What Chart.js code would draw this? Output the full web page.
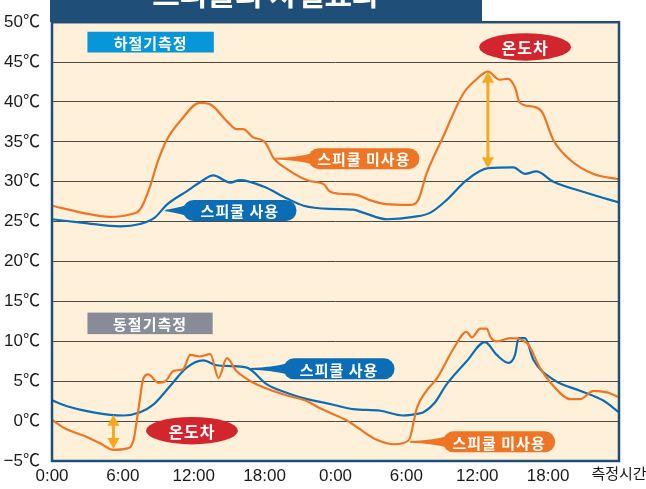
<!DOCTYPE html>
<html>
<head>
<meta charset="utf-8">
<script src="https://cdn.jsdelivr.net/npm/chart.js@4/dist/chart.umd.min.js"></script>
<style>
  body { margin: 0; background: #fff; }
  canvas { display: block; }
</style>
</head>
<body>
<canvas id="heatChart" width="646" height="489"></canvas>
<script>
// measured temperatures (hours since start, °C)
const summerOffHours = [0, 2.6, 4.9, 6.6, 7.45, 8.3, 8.9, 9.7, 10.85, 12.5, 13.4, 14.8, 15.6, 16.2, 17.0, 18.0, 18.3, 18.7, 20.0, 21.8, 23.0, 23.5, 24.4, 25.8, 26.9, 28.3, 30.3, 31.0, 31.7, 33.1, 34.8, 35.9, 36.9, 37.9, 38.6, 39.2, 39.6, 40.75, 41.5, 42.45, 43.9, 45.8, 48];
const summerOffTemps = [27.0, 26.1, 25.6, 25.9, 26.5, 29.4, 32.3, 35.2, 37.6, 39.9, 39.7, 37.6, 36.6, 36.6, 35.6, 35.0, 34.3, 33.1, 31.5, 30.1, 29.7, 28.8, 28.5, 28.35, 27.7, 27.2, 27.1, 27.7, 31.0, 35.6, 41.0, 42.8, 43.8, 42.8, 42.9, 41.8, 39.9, 39.4, 38.7, 35.2, 32.7, 31.0, 30.3];

const summerOnHours = [0, 2.65, 5.8, 7.45, 8.7, 9.7, 11.4, 12.5, 13.65, 15.1, 15.9, 17.9, 19.9, 21.3, 23.5, 25.5, 26.4, 28.35, 30.6, 32.0, 33.4, 35.1, 36.9, 39.05, 40.05, 41.0, 42.45, 45.3, 48];
const summerOnTemps = [25.3, 24.85, 24.4, 24.7, 25.5, 27.1, 28.8, 29.9, 30.8, 29.9, 30.2, 29.4, 27.9, 27.0, 26.6, 26.5, 26.1, 25.3, 25.6, 26.1, 27.7, 30.2, 31.7, 31.8, 31.0, 31.3, 30.0, 28.6, 27.4];

const winterOffHours = [0, 1.2, 2.65, 4.1, 5.2, 6.3, 6.9, 7.3, 7.75, 8.15, 9.0, 9.6, 10.3, 11.1, 11.7, 12.5, 13.4, 14.1, 14.8, 15.6, 17.05, 19.9, 21.6, 22.7, 25.0, 27.3, 29.0, 30.2, 30.9, 31.7, 32.6, 34.0, 35.1, 35.55, 36.25, 36.8, 37.1, 37.65, 38.8, 40.2, 41.3, 42.45, 43.9, 44.7, 45.85, 47.0, 48];
const winterOffTemps = [0.15, -1.0, -1.8, -2.8, -3.6, -3.45, -2.4, 1.3, 5.4, 5.85, 4.8, 5.0, 6.3, 6.5, 8.3, 8.1, 8.4, 5.4, 7.9, 6.3, 4.8, 3.2, 2.5, 1.6, 0.05, -2.2, -2.9, -2.4, 1.7, 3.8, 5.4, 9.1, 11.2, 10.5, 11.6, 11.6, 10.6, 10.0, 10.4, 9.8, 6.7, 4.4, 2.75, 2.75, 3.8, 3.6, 3.0];

const winterOnHours = [0, 1.2, 3.5, 6.05, 7.45, 8.6, 10.0, 11.4, 12.8, 13.95, 15.1, 16.5, 18.2, 20.15, 21.6, 23.4, 25.5, 27.8, 29.7, 30.9, 31.45, 32.4, 33.4, 35.1, 36.65, 37.65, 38.65, 39.2, 39.5, 40.05, 40.75, 42.45, 44.7, 46.7, 48];
const winterOnTemps = [2.6, 1.9, 1.1, 0.7, 1.1, 2.1, 4.4, 6.7, 7.6, 7.0, 6.9, 6.7, 4.6, 3.4, 2.75, 2.2, 1.5, 1.3, 0.7, 0.9, 1.1, 2.3, 4.6, 7.5, 9.9, 8.3, 7.3, 8.3, 10.4, 10.4, 7.7, 5.2, 3.8, 2.55, 1.1];

const hourTicks = [0, 6, 12, 18, 24, 30, 36, 42, 48];
const tempTicks = [-5, 0, 5, 10, 15, 20, 25, 30, 35, 40, 45, 50];

const ORANGE = '#EE7523';
const BLUE = '#0B6DB6';
const ARROW = '#F6A91C';
const NAVY = '#1F4E79';
const KR = "'Noto Sans CJK KR', sans-serif";
const NUM = "'Liberation Sans Narrow', 'Liberation Sans', 'Noto Sans CJK KR', sans-serif";

function pts(hours, temps) {
    return hours.map((h, i) => ({ x: h, y: temps[i] }));
}

// labels and markers, placed in data units (hour, °C)
const boxes = [
    { text: '하절기측정', x0: 3.0, x1: 13.7, y0: 48.8, y1: 46.2, color: '#0797D9' },
    { text: '동절기측정', x0: 3.0, x1: 13.6, y0: 13.6, y1: 10.9, color: '#888C98' }
];
const pills = [
    { text: '스피쿨 미사용', x0: 21.7, x1: 31.1, y: 32.9, tip: 18.9, color: ORANGE },
    { text: '스피쿨 사용', x0: 11.1, x1: 20.7, y: 26.4, tip: 9.6, color: BLUE },
    { text: '스피쿨 사용', x0: 19.6, x1: 29.0, y: 6.55, tip: 16.8, color: BLUE },
    { text: '스피쿨 미사용', x0: 33.1, x1: 42.6, y: -2.6, tip: 30.3, color: ORANGE }
];
const ovals = [
    { text: '온도차', x: 40.05, y: 46.9 },
    { text: '온도차', x: 11.85, y: -1.2 }
];
const arrows = [
    { x: 36.9, top: 43.8, bottom: 31.7 },
    { x: 5.2, top: 0.8, bottom: -3.5 }
];

const decor = {
    id: 'decor',
    beforeDraw(chart) {
        const { ctx, chartArea: a } = chart;
        ctx.save();
        ctx.fillStyle = '#FEF0D9';
        ctx.fillRect(a.left, a.top, a.right - a.left, a.bottom - a.top);
        ctx.restore();
    },
    afterDraw(chart) {
        const { ctx, chartArea: a } = chart;
        const sx = chart.scales.x, sy = chart.scales.y;
        const X = v => sx.getPixelForValue(v);
        const Y = v => sy.getPixelForValue(v);
        ctx.save();

        // frame + title tab
        ctx.strokeStyle = NAVY;
        ctx.lineWidth = 2.5;
        ctx.strokeRect(a.left, a.top, a.right - a.left, a.bottom - a.top);
        ctx.fillStyle = NAVY;
        ctx.fillRect(a.left - 2, 0, 432, a.top);
        ctx.fillStyle = '#fff';
        ctx.font = 'bold 30px ' + KR;
        ctx.textAlign = 'center';
        ctx.textBaseline = 'alphabetic';
        ctx.fillText('스피쿨의 차열효과', a.left + 214, 5);

        ctx.textBaseline = 'middle';
        ctx.letterSpacing = '1px';
        ctx.font = 'bold 15px ' + KR;

        boxes.forEach(b => {
            const l = X(b.x0), r = X(b.x1), t = Y(b.y0), bt = Y(b.y1);
            ctx.fillStyle = b.color;
            ctx.fillRect(l, t, r - l, bt - t);
            ctx.fillStyle = '#fff';
            ctx.fillText(b.text, (l + r) / 2, (t + bt) / 2 + 1);
        });

        pills.forEach(p => {
            const l = X(p.x0), r = X(p.x1), cy = Y(p.y), h = 21, rad = h / 2;
            const tx = X(p.tip);
            ctx.fillStyle = p.color;
            ctx.beginPath();
            ctx.moveTo(tx, cy - 0.8);
            ctx.quadraticCurveTo(l - 12, cy - 1, l + 6, cy - 6);
            ctx.lineTo(l + 6, cy + 6);
            ctx.quadraticCurveTo(l - 12, cy + 1, tx, cy + 0.8);
            ctx.closePath();
            ctx.fill();
            ctx.beginPath();
            ctx.moveTo(l + rad, cy - rad);
            ctx.lineTo(r - rad, cy - rad);
            ctx.arc(r - rad, cy, rad, -Math.PI / 2, Math.PI / 2);
            ctx.lineTo(l + rad, cy + rad);
            ctx.arc(l + rad, cy, rad, Math.PI / 2, Math.PI * 1.5);
            ctx.closePath();
            ctx.fill();
            ctx.fillStyle = '#fff';
            ctx.fillText(p.text, (l + r) / 2, cy + 1);
        });

        ovals.forEach(o => {
            const cx = X(o.x), cy = Y(o.y);
            ctx.fillStyle = '#D2252E';
            ctx.beginPath();
            ctx.ellipse(cx, cy, 46, 13.7, 0, 0, Math.PI * 2);
            ctx.fill();
            ctx.fillStyle = '#fff';
            ctx.font = 'bold 16px ' + KR;
            ctx.fillText(o.text, cx, cy + 1);
        });

        arrows.forEach(ar => {
            const x = X(ar.x), t = Y(ar.top), b = Y(ar.bottom);
            ctx.strokeStyle = ARROW;
            ctx.fillStyle = ARROW;
            ctx.lineWidth = 3;
            ctx.beginPath();
            ctx.moveTo(x, t + 8);
            ctx.lineTo(x, b - 8);
            ctx.stroke();
            ctx.beginPath();
            ctx.moveTo(x, t);
            ctx.lineTo(x - 6, t + 11);
            ctx.lineTo(x + 6, t + 11);
            ctx.closePath();
            ctx.fill();
            ctx.beginPath();
            ctx.moveTo(x, b);
            ctx.lineTo(x - 6, b - 11);
            ctx.lineTo(x + 6, b - 11);
            ctx.closePath();
            ctx.fill();
        });
        ctx.restore();
    }
};

const lineStyle = (color) => ({
    borderColor: color,
    borderWidth: 2.2,
    pointRadius: 0,
    fill: false,
    cubicInterpolationMode: 'monotone'
});

new Chart(document.getElementById('heatChart').getContext('2d'), {
    type: 'line',
    data: {
        datasets: [
            { label: '하절기 스피쿨 미사용', data: pts(summerOffHours, summerOffTemps), ...lineStyle(ORANGE) },
            { label: '하절기 스피쿨 사용', data: pts(summerOnHours, summerOnTemps), ...lineStyle(BLUE) },
            { label: '동절기 스피쿨 미사용', data: pts(winterOffHours, winterOffTemps), ...lineStyle(ORANGE) },
            { label: '동절기 스피쿨 사용', data: pts(winterOnHours, winterOnTemps), ...lineStyle(BLUE) }
        ]
    },
    options: {
        responsive: false,
        animation: false,
        devicePixelRatio: 1,
        layout: {
            padding: { top: 17, right: 27, left: 0, bottom: 0 }
        },
        plugins: {
            legend: { display: false },
            tooltip: { enabled: false }
        },
        scales: {
            x: {
                type: 'linear',
                min: 0,
                max: 48,
                afterBuildTicks: s => { s.ticks = hourTicks.map(v => ({ value: v })); },
                afterFit: s => { s.height = 28; s.paddingLeft = 0; s.paddingRight = 0; },
                grid: { display: false, drawTicks: false },
                border: { display: false },
                ticks: {
                    autoSkip: false,
                    maxRotation: 0,
                    padding: 5,
                    color: '#1a1a1a',
                    font: ctx => ({ family: NUM, size: ctx.tick && ctx.tick.value === 48 ? 15 : 17 }),
                    callback: v => v === 48 ? '측정시간' : (v % 24) + ':00'
                }
            },
            y: {
                min: -5,
                max: 50,
                afterBuildTicks: s => { s.ticks = tempTicks.map(v => ({ value: v })); },
                afterFit: s => { s.width = 52; },
                grid: { color: '#4d4a45', lineWidth: 1, drawTicks: false },
                border: { display: false },
                ticks: {
                    padding: 12,
                    color: '#1a1a1a',
                    font: { family: NUM, size: 17 },
                    callback: v => (v < 0 ? '−' + Math.abs(v) : v) + '℃'
                }
            }
        }
    },
    plugins: [decor]
});
</script>
</body>
</html>
